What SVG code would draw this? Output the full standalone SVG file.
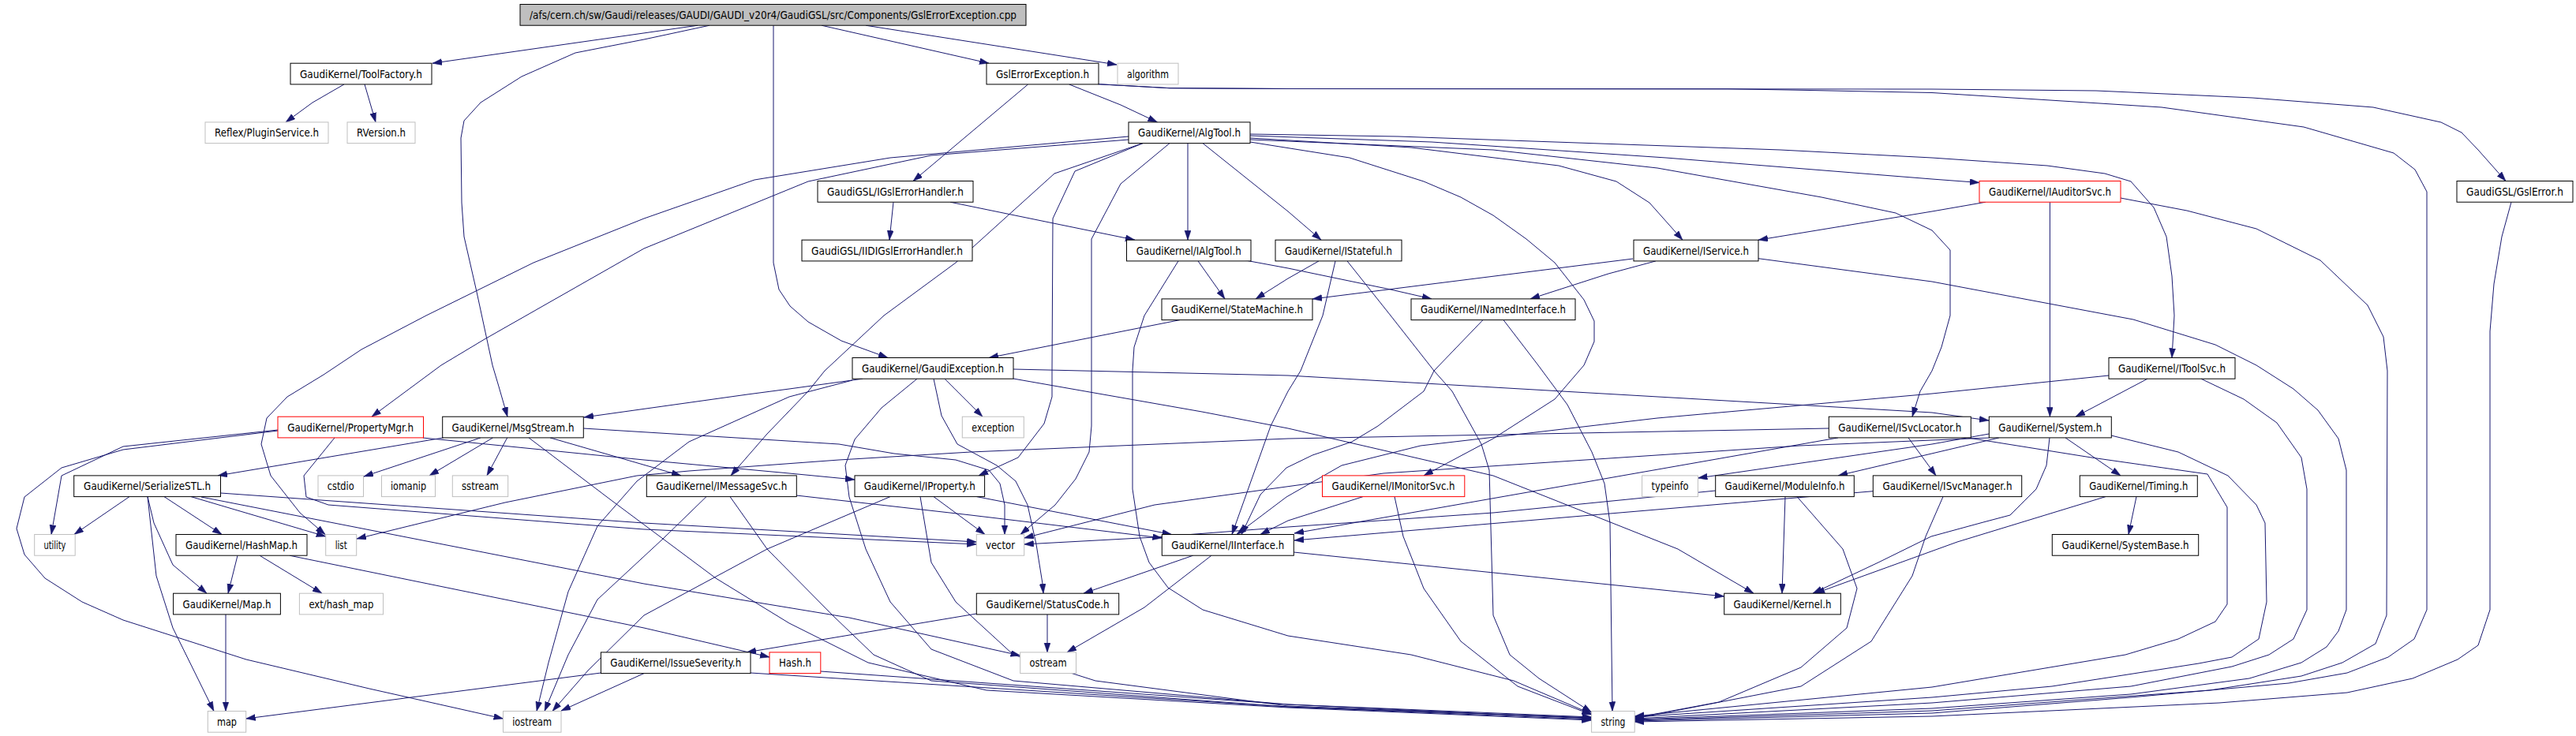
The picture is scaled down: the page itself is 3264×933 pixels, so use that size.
<svg xmlns="http://www.w3.org/2000/svg" width="3264" height="933" viewBox="0 0 3264 933">
<style>
.n rect{fill:#fff;stroke:#000;stroke-width:1}
.g rect{fill:#fff;stroke:#bfbfbf;stroke-width:1}
.r rect{fill:#fff;stroke:#f00;stroke-width:1}
.root rect{fill:#bfbfbf;stroke:#000;stroke-width:1}
text{font-family:"DejaVu Sans","Liberation Sans",sans-serif;font-size:14px;fill:#000;text-anchor:middle}
#edges path{fill:none;stroke:#191970;stroke-width:1;marker-end:url(#a)}
</style>
<defs>
<marker id="a" markerUnits="userSpaceOnUse" markerWidth="13" markerHeight="9" refX="12" refY="4" orient="auto">
<path d="M0,0 L12,4 L0,8 z" fill="#191970" stroke="#191970" stroke-width="0.5"/>
</marker>
</defs>
<rect width="3264" height="933" fill="#fff"/>
<g id="edges">
<path d="M884,32.2 L548,80.2"/>
<path d="M899,32.2 L816,50 L729,67 L661,97 L609,130 L588,153 L584,175 L585,257 L588,300 L604,370 L624,463 L632,490 L643,528.2"/>
<path d="M980,32.2 L980,333 L987,367 L1001,388 L1024,408 L1066,432 L1125,453.5"/>
<path d="M1041,32.2 L1253,80.2"/>
<path d="M1097,32.2 L1415,82"/>
<path d="M436,106.9 L396,130 L362,154.9"/>
<path d="M462,106.9 L476,154.9"/>
<path d="M1302.6,106.9 L1157,229.5"/>
<path d="M1354.6,106.9 L1420,133 L1466.5,154.9"/>
<path d="M1391.6,106.7 L1482,111.7 L1632,112.5 L2448,113 L2656,115 L2854,124 L3007,136 L3093,155 L3119,168 L3140,190 L3175,229.5"/>
<path d="M1391.6,106.7 L1482,111.7 L1632,112.5 L2189,112.7 L2267,114 L2448,117.5 L2739,136 L2919,161 L3033,194 L3060,215 L3075,243 L3075,773 L3059,810 L3026,833 L2974,853 L2900,866 L2700,884 L2448,904 L2071.2,914"/>
<path d="M3182,256.2 L3170,300 L3160,360 L3155,420 L3155,773 L3140,818 L3114,836 L3057,860 L2974,878 L2812,891 L2448,908 L2071.2,915"/>
<path d="M1430,173 L1128,200 L956,228 L816,277 L676,333 L540,400 L458,443 L410,475 L364,503 L338,530 L331,563 L343,603 L380,650 L412,677.5"/>
<path d="M1430,177 L1180,197 L1024,230 L816,315 L614,430 L559,463 L471,528.2"/>
<path d="M1448,181.6 L1336,220 L1284,267 L1211,333 L1120,400 L1045,470 L1024,496 L972,550 L926,602.9"/>
<path d="M1448,181.6 L1362,217 L1334,277 L1333,470 L1333,503 L1323,537 L1290,580 L1240,602.9"/>
<path d="M1482,181.6 L1420,233 L1383,303 L1383,540 L1380,573 L1363,607 L1337,640 L1293,677.5"/>
<path d="M1505,181.6 L1505,304.2"/>
<path d="M1524,181.6 L1632,268 L1674,304.2"/>
<path d="M1584,180 L1710,200 L1804,230 L1851,250 L1892,273 L1934,303 L1970,333 L2007,380 L2020,407 L2020,433 L2007,463 L1970,506 L1892,556 L1804,602.9"/>
<path d="M1584,175 L1788,187 L1975,210 L2048,230 L2090,257 L2132,304.2"/>
<path d="M1584,170 L1772,173 L1913,178 L2256,190 L2448,200 L2594,210 L2667,220 L2700,230 L2729,263 L2745,300 L2752,350 L2755,400 L2752,453.5"/>
<path d="M1584,172 L1814,180 L2111,200 L2448,227 L2508,231.5"/>
<path d="M1584,177 L1892,190 L2100,213 L2308,250 L2402,270 L2448,292 L2471,317 L2471,400 L2460,440 L2448,470 L2433,496 L2423,528.2"/>
<path d="M1132,256.2 L1127,304.2"/>
<path d="M1204,256.2 L1438,304.2"/>
<path d="M1518,330.9 L1552,378.9"/>
<path d="M1578,330 L1632,340 L1762,367 L1814,378.9"/>
<path d="M1493,330.9 L1450,400 L1437,440 L1435,470 L1435,620 L1444,680 L1456,713 L1480,745 L1524,773 L1632,806 L1788,830 L1918,863 L2016.6,905"/>
<path d="M1671,330.9 L1632,353 L1591,378.9"/>
<path d="M1692,330.9 L1676,400 L1648,470 L1632,496 L1610,540 L1561,677.5"/>
<path d="M1707,330.9 L1762,400 L1817,470 L1840,496 L1877,563 L1887,596 L1892,780 L1913,830 L1950,860 L2016.6,903"/>
<path d="M2069,328 L1663,379"/>
<path d="M2098,330.9 L2038,347 L1939,378.9"/>
<path d="M2228,327.7 L2448,357 L2703,405 L2807,437 L2859,463 L2906,493 L2937,520 L2963,556 L2973,596 L2973,773 L2963,800 L2948,820 L2916,840 L2850,860 L2700,880 L2448,898 L2071.2,912"/>
<path d="M2516,256.2 L2448,268 L2228,304.2"/>
<path d="M2597.4,256.2 L2597.4,528.2"/>
<path d="M2687,251 L2771,267 L2859,290 L2940,330 L3000,387 L3020,427 L3025,470 L3024,780 L3010,816 L2968,840 L2916,857 L2800,875 L2448,901 L2071.2,913"/>
<path d="M1495,405.6 L1253,453.5"/>
<path d="M1879,405.6 L1817,470 L1804,496 L1746,540 L1713,560 L1663,577 L1630,593 L1597,627 L1573,677.5"/>
<path d="M1905,405.6 L1949,463 L1986,513 L2017,573 L2033,613 L2040,663 L2043,901.5"/>
<path d="M1093,480.2 L1000,493 L947,500 L740,529"/>
<path d="M1197,480.2 L1245,528.2"/>
<path d="M1080,482 L1000,503 L873,560 L807,610 L757,667 L720,750 L695,840 L680,901.5"/>
<path d="M1162,480.2 L1117,517 L1083,557 L1071,590 L1076,630 L1097,696 L1128,763 L1180,823 L1284,863 L1632,893 L2016.6,911"/>
<path d="M1183,480.2 L1193,527 L1213,563 L1263,590 L1287,610 L1302,640 L1313,690 L1321,740 L1322,752.2"/>
<path d="M1284,468 L1632,476 L2448,523 L2520,533"/>
<path d="M1284,480 L1523,522 L1632,543 L1892,603 L2126,696 L2222,752.2"/>
<path d="M562,554.9 L276,602.9"/>
<path d="M609,554.9 L461,604"/>
<path d="M624.5,554.9 L544,602.9"/>
<path d="M642.7,554.9 L617,602.9"/>
<path d="M697,554.9 L863,602.9"/>
<path d="M739,543 L1063,563 L1133,575 L1211,583 L1253,596 L1267,613 L1273,640 L1273,677.5"/>
<path d="M670,554.9 L773,633 L907,733 L1000,790 L1100,840 L1250,875 L1632,897 L2016.6,913"/>
<path d="M352,545 L156,566 L78,603 L65,677.5"/>
<path d="M352,546 L156,570 L78,593 L31,630 L21,670 L31,703 L57,733 L104,763 L156,786 L312,836 L468,873 L637.5,911"/>
<path d="M424,554.9 L385,603 L388,630 L416,640 L816,671 L1237.3,690"/>
<path d="M536,555 L816,583 L1000,600 L1083,608"/>
<path d="M164,629.6 L94,677.5"/>
<path d="M208,629.6 L281,677.5"/>
<path d="M242,629.6 L412.7,680"/>
<path d="M187,629.6 L195,663 L219,716 L262,752.2"/>
<path d="M187,629.6 L198,730 L219,796 L271,901.5"/>
<path d="M279.5,625 L816,663 L1237.3,687"/>
<path d="M255,630 L816,740 L1076,783 L1292.7,831"/>
<path d="M301,704.2 L289,752.2"/>
<path d="M329,704.2 L408,752.2"/>
<path d="M367,704.2 L816,796 L975,833"/>
<path d="M286,778.9 L286,901.5"/>
<path d="M1009,628 L1230,653 L1472.3,682"/>
<path d="M895,629.6 L840,683 L757,760 L720,830 L690,901.5"/>
<path d="M925,629.6 L972,696 L1055,780 L1107,830 L1180,863 L1632,896 L2016.6,912"/>
<path d="M1183,629.6 L1248,677.5"/>
<path d="M1237.5,629.6 L1484.6,677.5"/>
<path d="M1166,629.6 L1180,713 L1211,763 L1284,830 L1388,863 L1632,895 L2016.6,910"/>
<path d="M1128,629.6 L972,696 L816,780 L745,850 L700,901.5"/>
<path d="M1727,629.6 L1632,660 L1597,677.5"/>
<path d="M1767,629.6 L1778,680 L1804,746 L1851,813 L1923,870 L2016.6,906"/>
<path d="M2418,554.9 L2453,602.9"/>
<path d="M2317.3,543 L1632,556 L1230,573 L1063,583 L873,597 L807,603 L640,637 L452,683"/>
<path d="M2329,554.9 L1640,676"/>
<path d="M2493,554.9 L2650,580 L2797,601 L2822,643 L2822,766 L2807,788 L2760,810 L2693,830 L2448,871 L2071.2,908"/>
<path d="M2373.3,622.7 L1640,685"/>
<path d="M2462,629.6 L2440,680 L2423,730 L2371,813 L2282,870 L2071.2,911"/>
<path d="M2533,554.9 L2329,602.9"/>
<path d="M2520.3,550 L2448,563 L2151.4,606"/>
<path d="M2520.3,555 L2280,565 L1753,600 L1463,640 L1297.7,682"/>
<path d="M2597,554.9 L2593,590 L2580,620 L2547,653 L2513,662 L2447,680 L2380,713 L2297,752.2"/>
<path d="M2617,554.9 L2687,602.9"/>
<path d="M2675,552 L2760,573 L2823,603 L2859,640 L2870,663 L2872,763 L2862,810 L2828,833 L2786,841 L2600,870 L2448,884 L2071.2,909"/>
<path d="M2707,629.6 L2697,677.5"/>
<path d="M2668,629.6 L2480,687 L2300,752.2"/>
<path d="M2721,480.2 L2630,528.2"/>
<path d="M2789,480.2 L2843,506 L2885,536 L2916,580 L2923,620 L2923,773 L2906,810 L2875,830 L2828,845 L2700,870 L2448,891 L2071.2,911"/>
<path d="M2672,476 L2448,499 L2100,530 L1800,565 L1700,590 L1630,630 L1567,677.5"/>
<path d="M2262,629.6 L2258,752.2"/>
<path d="M2277,629.6 L2335,696 L2353,746 L2340,796 L2282,846 L2178,890 L2071.2,910"/>
<path d="M2173.7,622 L1892,650 L1632,668 L1463,681 L1297.7,690"/>
<path d="M1511.7,704.2 L1373,752.2"/>
<path d="M1535,704.2 L1450,770 L1352,826.9"/>
<path d="M1639.3,700 L2184.7,756"/>
<path d="M1237.3,778 L946,826.9"/>
<path d="M1327,778.9 L1327,826.9"/>
<path d="M761.4,853 L311.7,911"/>
<path d="M816,853.6 L711,901"/>
<path d="M951,853 L1632,896 L2016.6,910"/>
<path d="M1039.8,851 L1632,893 L2016.6,909"/>
</g>
<g id="n_root" class="root"><rect x="659" y="5.5" width="641" height="26.7"/><text x="979.5" y="23.8" textLength="617" lengthAdjust="spacingAndGlyphs">/afs/cern.ch/sw/Gaudi/releases/GAUDI/GAUDI_v20r4/GaudiGSL/src/Components/GslErrorException.cpp</text></g>
<g id="n_toolfactory" class="n"><rect x="368" y="80.2" width="179" height="26.7"/><text x="457.5" y="98.5" textLength="155" lengthAdjust="spacingAndGlyphs">GaudiKernel/ToolFactory.h</text></g>
<g id="n_gslerrexc" class="n"><rect x="1250" y="80.2" width="142" height="26.7"/><text x="1321" y="98.5" textLength="118" lengthAdjust="spacingAndGlyphs">GslErrorException.h</text></g>
<g id="n_algorithm" class="g"><rect x="1416" y="80.2" width="77" height="26.7"/><text x="1454.5" y="98.5" textLength="53" lengthAdjust="spacingAndGlyphs">algorithm</text></g>
<g id="n_plugin" class="g"><rect x="260" y="154.9" width="156" height="26.7"/><text x="338" y="173.2" textLength="132" lengthAdjust="spacingAndGlyphs">Reflex/PluginService.h</text></g>
<g id="n_rversion" class="g"><rect x="440" y="154.9" width="86" height="26.7"/><text x="483" y="173.2" textLength="62" lengthAdjust="spacingAndGlyphs">RVersion.h</text></g>
<g id="n_algtool" class="n"><rect x="1430" y="154.9" width="154" height="26.7"/><text x="1507" y="173.2" textLength="130" lengthAdjust="spacingAndGlyphs">GaudiKernel/AlgTool.h</text></g>
<g id="n_igslerr" class="n"><rect x="1036" y="229.5" width="197" height="26.7"/><text x="1134.5" y="247.8" textLength="173" lengthAdjust="spacingAndGlyphs">GaudiGSL/IGslErrorHandler.h</text></g>
<g id="n_iauditor" class="r"><rect x="2508" y="229.5" width="179" height="26.7"/><text x="2597.5" y="247.8" textLength="155" lengthAdjust="spacingAndGlyphs">GaudiKernel/IAuditorSvc.h</text></g>
<g id="n_gslerror" class="n"><rect x="3113" y="229.5" width="147" height="26.7"/><text x="3186.5" y="247.8" textLength="123" lengthAdjust="spacingAndGlyphs">GaudiGSL/GslError.h</text></g>
<g id="n_iidigsl" class="n"><rect x="1016" y="304.2" width="216" height="26.7"/><text x="1124" y="322.5" textLength="192" lengthAdjust="spacingAndGlyphs">GaudiGSL/IIDIGslErrorHandler.h</text></g>
<g id="n_ialgtool" class="n"><rect x="1427.5" y="304.2" width="157.5" height="26.7"/><text x="1506.2" y="322.5" textLength="133" lengthAdjust="spacingAndGlyphs">GaudiKernel/IAlgTool.h</text></g>
<g id="n_istateful" class="n"><rect x="1616" y="304.2" width="160" height="26.7"/><text x="1696" y="322.5" textLength="136" lengthAdjust="spacingAndGlyphs">GaudiKernel/IStateful.h</text></g>
<g id="n_iservice" class="n"><rect x="2070" y="304.2" width="158" height="26.7"/><text x="2149" y="322.5" textLength="134" lengthAdjust="spacingAndGlyphs">GaudiKernel/IService.h</text></g>
<g id="n_statemachine" class="n"><rect x="1472" y="378.9" width="191" height="26.7"/><text x="1567.5" y="397.2" textLength="167" lengthAdjust="spacingAndGlyphs">GaudiKernel/StateMachine.h</text></g>
<g id="n_inamed" class="n"><rect x="1788" y="378.9" width="208" height="26.7"/><text x="1892" y="397.2" textLength="184" lengthAdjust="spacingAndGlyphs">GaudiKernel/INamedInterface.h</text></g>
<g id="n_gaudiexc" class="n"><rect x="1080" y="453.5" width="204" height="26.7"/><text x="1182" y="471.8" textLength="180" lengthAdjust="spacingAndGlyphs">GaudiKernel/GaudiException.h</text></g>
<g id="n_itoolsvc" class="n"><rect x="2672" y="453.5" width="160" height="26.7"/><text x="2752" y="471.8" textLength="136" lengthAdjust="spacingAndGlyphs">GaudiKernel/IToolSvc.h</text></g>
<g id="n_propmgr" class="r"><rect x="352" y="528.2" width="184.5" height="26.7"/><text x="444.2" y="546.5" textLength="160" lengthAdjust="spacingAndGlyphs">GaudiKernel/PropertyMgr.h</text></g>
<g id="n_msgstream" class="n"><rect x="560.7" y="528.2" width="178.6" height="26.7"/><text x="650" y="546.5" textLength="155" lengthAdjust="spacingAndGlyphs">GaudiKernel/MsgStream.h</text></g>
<g id="n_exception" class="g"><rect x="1219.3" y="528.2" width="78" height="26.7"/><text x="1258.3" y="546.5" textLength="54" lengthAdjust="spacingAndGlyphs">exception</text></g>
<g id="n_isvcloc" class="n"><rect x="2317.3" y="528.2" width="180" height="26.7"/><text x="2407.3" y="546.5" textLength="156" lengthAdjust="spacingAndGlyphs">GaudiKernel/ISvcLocator.h</text></g>
<g id="n_system" class="n"><rect x="2520.3" y="528.2" width="155" height="26.7"/><text x="2597.8" y="546.5" textLength="131" lengthAdjust="spacingAndGlyphs">GaudiKernel/System.h</text></g>
<g id="n_serialize" class="n"><rect x="93.7" y="602.9" width="185.8" height="26.7"/><text x="186.6" y="621.2" textLength="161" lengthAdjust="spacingAndGlyphs">GaudiKernel/SerializeSTL.h</text></g>
<g id="n_cstdio" class="g"><rect x="403" y="602.9" width="57.5" height="26.7"/><text x="431.7" y="621.2" textLength="34" lengthAdjust="spacingAndGlyphs">cstdio</text></g>
<g id="n_iomanip" class="g"><rect x="483.5" y="602.9" width="68" height="26.7"/><text x="517.5" y="621.2" textLength="45" lengthAdjust="spacingAndGlyphs">iomanip</text></g>
<g id="n_sstream" class="g"><rect x="573.3" y="602.9" width="70.4" height="26.7"/><text x="608.5" y="621.2" textLength="47" lengthAdjust="spacingAndGlyphs">sstream</text></g>
<g id="n_imsgsvc" class="n"><rect x="819.3" y="602.9" width="190" height="26.7"/><text x="914.3" y="621.2" textLength="166" lengthAdjust="spacingAndGlyphs">GaudiKernel/IMessageSvc.h</text></g>
<g id="n_iproperty" class="n"><rect x="1083" y="602.9" width="164.6" height="26.7"/><text x="1165.3" y="621.2" textLength="141" lengthAdjust="spacingAndGlyphs">GaudiKernel/IProperty.h</text></g>
<g id="n_imonitor" class="r"><rect x="1675.5" y="602.9" width="180.3" height="26.7"/><text x="1765.6" y="621.2" textLength="156" lengthAdjust="spacingAndGlyphs">GaudiKernel/IMonitorSvc.h</text></g>
<g id="n_typeinfo" class="g"><rect x="2080.6" y="602.9" width="70.8" height="26.7"/><text x="2116" y="621.2" textLength="47" lengthAdjust="spacingAndGlyphs">typeinfo</text></g>
<g id="n_moduleinfo" class="n"><rect x="2173.7" y="602.9" width="175.6" height="26.7"/><text x="2261.5" y="621.2" textLength="152" lengthAdjust="spacingAndGlyphs">GaudiKernel/ModuleInfo.h</text></g>
<g id="n_isvcmgr" class="n"><rect x="2373.3" y="602.9" width="188.4" height="26.7"/><text x="2467.5" y="621.2" textLength="164" lengthAdjust="spacingAndGlyphs">GaudiKernel/ISvcManager.h</text></g>
<g id="n_timing" class="n"><rect x="2635.3" y="602.9" width="149" height="26.7"/><text x="2709.8" y="621.2" textLength="125" lengthAdjust="spacingAndGlyphs">GaudiKernel/Timing.h</text></g>
<g id="n_utility" class="g"><rect x="43.7" y="677.5" width="51.5" height="26.7"/><text x="69.4" y="695.8" textLength="28" lengthAdjust="spacingAndGlyphs">utility</text></g>
<g id="n_hashmap" class="n"><rect x="223" y="677.5" width="166" height="26.7"/><text x="306" y="695.8" textLength="142" lengthAdjust="spacingAndGlyphs">GaudiKernel/HashMap.h</text></g>
<g id="n_list" class="g"><rect x="412.7" y="677.5" width="39" height="26.7"/><text x="432.2" y="695.8" textLength="15" lengthAdjust="spacingAndGlyphs">list</text></g>
<g id="n_vector" class="g"><rect x="1237.3" y="677.5" width="60.4" height="26.7"/><text x="1267.5" y="695.8" textLength="37" lengthAdjust="spacingAndGlyphs">vector</text></g>
<g id="n_iinterface" class="n"><rect x="1472.3" y="677.5" width="167" height="26.7"/><text x="1555.8" y="695.8" textLength="143" lengthAdjust="spacingAndGlyphs">GaudiKernel/IInterface.h</text></g>
<g id="n_systembase" class="n"><rect x="2600.3" y="677.5" width="185.4" height="26.7"/><text x="2693" y="695.8" textLength="161" lengthAdjust="spacingAndGlyphs">GaudiKernel/SystemBase.h</text></g>
<g id="n_maph" class="n"><rect x="219.6" y="752.2" width="135.8" height="26.7"/><text x="287.5" y="770.5" textLength="112" lengthAdjust="spacingAndGlyphs">GaudiKernel/Map.h</text></g>
<g id="n_exthash" class="g"><rect x="379.4" y="752.2" width="106.1" height="26.7"/><text x="432.4" y="770.5" textLength="82" lengthAdjust="spacingAndGlyphs">ext/hash_map</text></g>
<g id="n_statuscode" class="n"><rect x="1237.3" y="752.2" width="180.4" height="26.7"/><text x="1327.5" y="770.5" textLength="156" lengthAdjust="spacingAndGlyphs">GaudiKernel/StatusCode.h</text></g>
<g id="n_kernel" class="n"><rect x="2184.7" y="752.2" width="147.6" height="26.7"/><text x="2258.5" y="770.5" textLength="124" lengthAdjust="spacingAndGlyphs">GaudiKernel/Kernel.h</text></g>
<g id="n_issue" class="n"><rect x="761.4" y="826.9" width="189.6" height="26.7"/><text x="856.2" y="845.2" textLength="166" lengthAdjust="spacingAndGlyphs">GaudiKernel/IssueSeverity.h</text></g>
<g id="n_hash" class="r"><rect x="975" y="826.9" width="64.8" height="26.7"/><text x="1007.4" y="845.2" textLength="41" lengthAdjust="spacingAndGlyphs">Hash.h</text></g>
<g id="n_ostream" class="g"><rect x="1292.7" y="826.9" width="70.8" height="26.7"/><text x="1328.1" y="845.2" textLength="47" lengthAdjust="spacingAndGlyphs">ostream</text></g>
<g id="n_map" class="g"><rect x="263.3" y="901.5" width="48.4" height="26.7"/><text x="287.5" y="919.8" textLength="25" lengthAdjust="spacingAndGlyphs">map</text></g>
<g id="n_iostream" class="g"><rect x="637.5" y="901.5" width="73.5" height="26.7"/><text x="674.2" y="919.8" textLength="50" lengthAdjust="spacingAndGlyphs">iostream</text></g>
<g id="n_string" class="g"><rect x="2016.6" y="901.5" width="54.6" height="26.7"/><text x="2043.9" y="919.8" textLength="31" lengthAdjust="spacingAndGlyphs">string</text></g>
</svg>
